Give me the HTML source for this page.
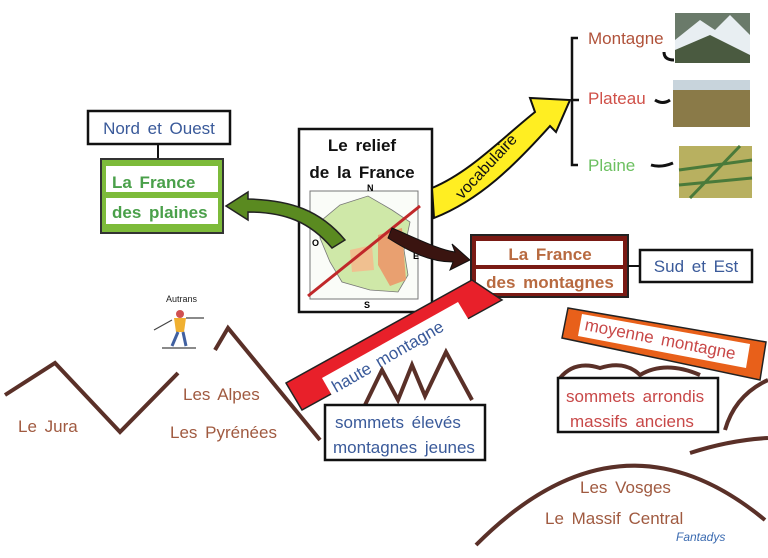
<!DOCTYPE html>
<html><head><meta charset="utf-8"><style>
html,body{margin:0;padding:0;background:#fff;width:768px;height:558px;overflow:hidden}
svg{display:block}
text{font-family:"Liberation Sans",sans-serif;word-spacing:3px}
</style></head><body>
<svg width="768" height="558" viewBox="0 0 768 558" xmlns="http://www.w3.org/2000/svg">
<!-- Nord et Ouest -->
<rect x="88" y="111" width="142" height="33" fill="#fff" stroke="#111" stroke-width="2.5"/>
<text x="159" y="134" text-anchor="middle" font-size="17" fill="#3a5a9a">Nord et Ouest</text>
<line x1="158" y1="144" x2="158" y2="160" stroke="#111" stroke-width="2"/>
<!-- La France des plaines -->
<rect x="101" y="159" width="122" height="74" fill="#7dbb3a" stroke="#333" stroke-width="2"/>
<rect x="106" y="166" width="112" height="26" fill="#fff"/>
<rect x="106" y="198" width="112" height="26" fill="#fff"/>
<text x="112" y="188" font-size="17" font-weight="bold" fill="#4aa04a">La France</text>
<text x="112" y="218" font-size="17" font-weight="bold" fill="#4aa04a">des plaines</text>
<!-- Map box -->
<rect x="299" y="129" width="133" height="183" fill="#fff" stroke="#111" stroke-width="2.5"/>
<text x="362" y="151" text-anchor="middle" font-size="17" font-weight="bold" fill="#111">Le relief</text>
<text x="362" y="178" text-anchor="middle" font-size="17" font-weight="bold" fill="#111">de la France</text>
<rect x="310" y="191" width="108" height="108" fill="#fafcf8" stroke="#777" stroke-width="1"/>
<path d="M340 205 L368 196 L392 210 L410 222 L404 250 L408 275 L398 292 L370 290 L342 282 L330 262 L320 238 L322 220 Z" fill="#cfe8a8" stroke="#777" stroke-width="0.8"/>
<path d="M378 235 L402 228 L404 255 L406 280 L390 286 L378 265 Z" fill="#e9a070"/>
<path d="M350 250 L372 245 L374 270 L352 272 Z" fill="#f0c090"/>
<text x="367" y="191" font-size="9" font-weight="bold">N</text>
<text x="312" y="246" font-size="9" font-weight="bold">O</text>
<text x="413" y="259" font-size="9" font-weight="bold">E</text>
<text x="364" y="308" font-size="9" font-weight="bold">S</text>
<line x1="308" y1="296" x2="420" y2="206" stroke="#c0282a" stroke-width="3"/>
<!-- green arrow -->
<path d="M345 240 C320 210 290 200 248 199 L248 192 L226 206 L248 220 L248 212 C285 212 310 222 332 248 Z" fill="#5a8a20" stroke="#222" stroke-width="1.5"/>
<!-- dark brown arrow -->
<path d="M392 228 C420 240 440 250 455 252 L452 244 L470 260 L450 270 L453 262 C430 262 410 252 388 238 Z" fill="#3a1410" stroke="#111" stroke-width="1"/>
<!-- yellow arrow vocabulaire -->
<path d="M432 188 C470 172 500 140 535 112 L530 98 L570 100 L556 132 L550 126 C515 165 480 200 434 218 Z" fill="#ffee22" stroke="#111" stroke-width="2"/>
<text transform="translate(462,200) rotate(-47)" font-size="16" fill="#111">vocabulaire</text>
<!-- bracket -->
<path d="M578 38 L572 38 L572 165 L578 165 M572 100 L579 100" fill="none" stroke="#111" stroke-width="2.5"/>
<text x="588" y="44" font-size="17" fill="#b0523a">Montagne</text>
<text x="588" y="104" font-size="17" fill="#d05048">Plateau</text>
<text x="588" y="171" font-size="17" fill="#6cc060">Plaine</text>
<path d="M664 52 q0 8 10 8 M655 100 q8 5 15 0 M651 165 q10 3 22 -2" fill="none" stroke="#111" stroke-width="3"/>
<rect x="675" y="13" width="75" height="50" fill="#6a7a6a"/>
<path d="M675 40 L700 20 L715 30 L730 15 L750 35 L750 63 L675 63 Z" fill="#e8eef2"/>
<path d="M675 50 L710 35 L750 55 L750 63 L675 63 Z" fill="#4a5a40"/>
<rect x="673" y="80" width="77" height="47" fill="#8a7a48"/>
<rect x="673" y="80" width="77" height="10" fill="#c8d4dc"/>
<rect x="679" y="146" width="73" height="52" fill="#b8b060"/>
<path d="M679 170 L752 160 M690 198 L740 146 M679 185 L752 178" stroke="#4a7a3a" stroke-width="3"/>
<!-- France des montagnes -->
<rect x="471" y="235" width="157" height="62" fill="#7a1a14" stroke="#222" stroke-width="2"/>
<rect x="476" y="241" width="147" height="24" fill="#fff"/>
<rect x="476" y="269" width="147" height="24" fill="#fff"/>
<text x="550" y="260" text-anchor="middle" font-size="17" font-weight="bold" fill="#b86a40">La France</text>
<text x="550" y="288" text-anchor="middle" font-size="17" font-weight="bold" fill="#b86a40">des montagnes</text>
<line x1="628" y1="266" x2="640" y2="266" stroke="#111" stroke-width="2"/>
<rect x="640" y="250" width="112" height="32" fill="#fff" stroke="#111" stroke-width="2.5"/>
<text x="696" y="272" text-anchor="middle" font-size="17" fill="#3a5a9a">Sud et Est</text>
<!-- haute montagne band -->
<path d="M286 383 L472 280 L502 300 L302 410 Z" fill="#e8202a" stroke="#222" stroke-width="1.5"/>
<path d="M322 378 L458 302 L470 322 L334 399 Z" fill="#fff"/>
<text transform="translate(336,393) rotate(-30)" font-size="17" fill="#3a5a9a">haute montagne</text>
<!-- moyenne montagne band -->
<path d="M568 308 L766 342 L760 380 L562 338 Z" fill="#e8601a" stroke="#222" stroke-width="1.5"/>
<path d="M582 314 L750 344 L746 368 L578 336 Z" fill="#fff"/>
<text transform="translate(584,330) rotate(11)" font-size="17" fill="#c84848">moyenne montagne</text>
<!-- mountains -->
<g fill="none" stroke="#5a3028" stroke-width="4" stroke-linejoin="miter">
<path d="M5 395 L55 363 L120 432 L178 373"/>
<path d="M215 350 L228 328 L320 440"/>
<path d="M365 405 L382 370 L398 400 L412 365 L425 396 L446 352 L472 400"/>
<path d="M560 378 Q575 360 600 368 Q625 360 640 375 Q665 360 700 375"/>
<path d="M476 545 Q620 400 765 520"/>
<path d="M725 430 Q735 395 768 380"/>
<path d="M690 453 Q730 440 768 438"/>
</g>
<text x="18" y="432" font-size="17" fill="#a05a40">Le Jura</text>
<text x="183" y="400" font-size="17" fill="#a05a40">Les Alpes</text>
<text x="170" y="438" font-size="17" fill="#a05a40">Les Pyrénées</text>
<rect x="325" y="405" width="160" height="55" fill="#fff" stroke="#111" stroke-width="2.5"/>
<text x="335" y="428" font-size="17" fill="#3a5a9a">sommets élevés</text>
<text x="333" y="453" font-size="17" fill="#3a5a9a">montagnes jeunes</text>
<rect x="558" y="378" width="160" height="54" fill="#fff" stroke="#111" stroke-width="2.5"/>
<text x="566" y="402" font-size="17" fill="#c84848">sommets arrondis</text>
<text x="570" y="427" font-size="17" fill="#c84848">massifs anciens</text>
<text x="580" y="493" font-size="17" fill="#a05a40">Les Vosges</text>
<text x="545" y="524" font-size="17" fill="#a05a40">Le Massif Central</text>
<text x="676" y="541" font-size="12" font-style="italic" fill="#3a6ab0">Fantadys</text>
<!-- skier -->
<text x="166" y="302" font-size="9" fill="#222">Autrans</text>
<circle cx="180" cy="314" r="4" fill="#d05050"/>
<path d="M174 318 L186 318 L184 332 L176 332 Z" fill="#f0b030"/>
<path d="M178 332 L172 346 M183 332 L186 346" stroke="#4060a0" stroke-width="3"/>
<path d="M162 348 L196 348 M154 330 L172 320 M186 318 L204 318" stroke="#444" stroke-width="1.2"/>
</svg>
</body></html>
